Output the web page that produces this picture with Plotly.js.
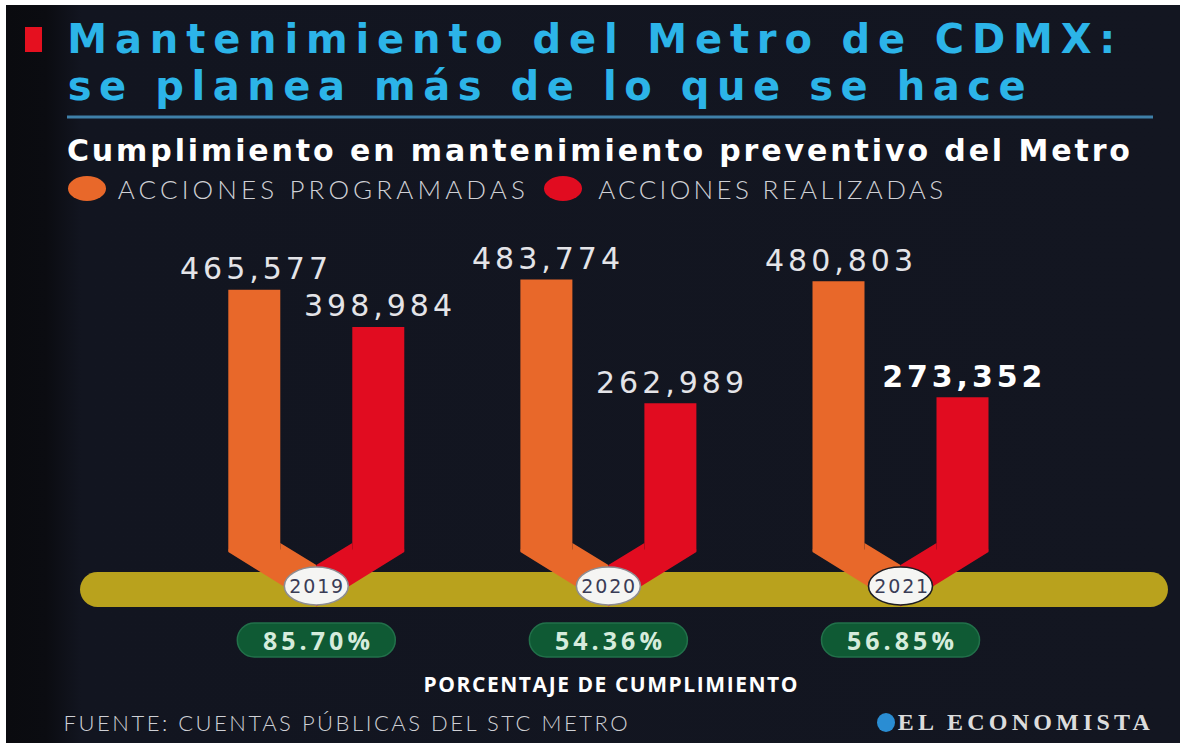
<!DOCTYPE html>
<html><head><meta charset="utf-8">
<script src="https://cdn.plot.ly/plotly-3.0.1.min.js"></script>
<style>
html,body{margin:0;padding:0;background:#ffffff;width:1183px;height:746px;overflow:hidden}
#panel{position:absolute;left:6px;top:5px;width:1174px;height:738px;
  background:linear-gradient(to right,#0a0b0f 0px,#0b0c11 40px,#121520 75px,#131621 100%)}
#chart{position:absolute;left:0;top:0;width:1183px;height:746px}
</style></head><body>
<div id="panel"></div><div id="chart"></div>
<script>
// ---------------- data ----------------
const years = ['2019', '2020', '2021'];
const programadas = [465577, 483774, 480803];
const realizadas = [398984, 262989, 273352];
const legendLabels = ['ACCIONES PROGRAMADAS', 'ACCIONES REALIZADAS'];
const titleLines = ['Mantenimiento del Metro de CDMX:', 'se planea más de lo que se hace'];
const subtitle = 'Cumplimiento en mantenimiento preventivo del Metro';
const pctLabel = 'PORCENTAJE DE CUMPLIMIENTO';
const source = 'FUENTE: CUENTAS PÚBLICAS DEL STC METRO';
const brand = 'EL ECONOMISTA';
const emphasized = [false, false, true];   // bold label on "realizadas"

// ---------------- style ----------------
const ORANGE = '#e8682a', RED = '#e10c20', GOLD = '#b9a21d', CYAN = '#2cb4e8';
const PILL = '#0f5a34', PILL_LINE = '#22704a';
const W = 1183, H = 746, L = 68, R = 5, T = 230, B = 81;
const PW = W - L - R, PH = H - T - B;
const XR = [-0.85, 2.95];
const UNIT = PW / (XR[1] - XR[0]);
const VPP = 1785;            // value per pixel
const BASE = 550.5;          // pixel row of value 0
const YR = [(BASE - (H - B)) * VPP, (BASE - T) * VPP];
const BAR_W = 52, BAR_OFF = 62;
const px = x => (x - L) / PW;
const py = y => (H - B - y) / PH;
const catPx = i => L + (i - XR[0]) * UNIT;
const fmt = v => v.toLocaleString('en-US');

function pill(x0, x1, y0, y1) {
  const r = (y1 - y0) / 2, k = 0.5523 * r, yc = (y0 + y1) / 2;
  return `M${x0 + r},${y1} L${x1 - r},${y1} C${x1 - r + k},${y1} ${x1},${yc + k} ${x1},${yc} ` +
         `C${x1},${yc - k} ${x1 - r + k},${y0} ${x1 - r},${y0} L${x0 + r},${y0} ` +
         `C${x0 + r - k},${y0} ${x0},${yc - k} ${x0},${yc} C${x0},${yc + k} ${x0 + r - k},${y1} ${x0 + r},${y1} Z`;
}

const data = [
  {type: 'bar', x: years, y: programadas, name: legendLabels[0],
   width: BAR_W / UNIT, offset: -(BAR_OFF + BAR_W / 2) / UNIT,
   marker: {color: ORANGE, line: {width: 0}}, hoverinfo: 'skip'},
  {type: 'bar', x: years, y: realizadas, name: legendLabels[1],
   width: BAR_W / UNIT, offset: (BAR_OFF - BAR_W / 2) / UNIT,
   marker: {color: RED, line: {width: 0}}, hoverinfo: 'skip'}
];

const shapes = [];
const annotations = [];
const fits = [];
function ann(a, fit) {
  annotations.push(Object.assign({showarrow: false, xanchor: 'center', yanchor: 'middle'}, a));
  fits.push(fit || null);
}

// gold band
const bandAnchor = catPx(1);
shapes.push({type: 'path', xref: 'x', yref: 'y', xsizemode: 'pixel', ysizemode: 'pixel',
  xanchor: 1, yanchor: 0, path: pill(80 - bandAnchor, 1168 - bandAnchor, BASE - 607, BASE - 572),
  fillcolor: GOLD, line: {width: 0}, layer: 'below'});

years.forEach((yr, i) => {
  const o = BAR_OFF + BAR_W / 2, inr = BAR_OFF - BAR_W / 2;
  shapes.push({type: 'path', xref: 'x', yref: 'y', xsizemode: 'pixel', ysizemode: 'pixel',
    xanchor: i, yanchor: 0,
    path: `M${-o},1 L${-inr},1 L${-inr},7.5 L0,-14.5 L0,-56 L${-o},-1.5 Z`,
    fillcolor: ORANGE, line: {width: 0}});
  shapes.push({type: 'path', xref: 'x', yref: 'y', xsizemode: 'pixel', ysizemode: 'pixel',
    xanchor: i, yanchor: 0,
    path: `M${o},1 L${inr},1 L${inr},7.5 L0,-14.5 L0,-56 L${o},-1.5 Z`,
    fillcolor: RED, line: {width: 0}});
  shapes.push({type: 'circle', xref: 'x', yref: 'y', xsizemode: 'pixel', ysizemode: 'pixel',
    xanchor: i, yanchor: 0, x0: -32, x1: 32, y0: BASE - 605, y1: BASE - 567,
    fillcolor: '#f5f5f3', line: {color: i === 2 ? '#1d1d22' : '#8d8d92', width: 1.6}});
  shapes.push({type: 'path', xref: 'x', yref: 'y', xsizemode: 'pixel', ysizemode: 'pixel',
    xanchor: i, yanchor: 0, path: pill(-79, 79, BASE - 657, BASE - 623),
    fillcolor: PILL, line: {color: PILL_LINE, width: 1.5}});

  ann({x: i, y: 0, xref: 'x', yref: 'y', yshift: -(586 - BASE), text: yr,
       font: {family: 'DejaVu Sans', size: 19, color: '#3a3c56'}}, 54);
  const pct = (realizadas[i] / programadas[i] * 100).toFixed(2) + '%';
  ann({x: i, y: 0, xref: 'x', yref: 'y', yshift: -(640 - BASE), text: pct,
       font: {family: 'Open Sans', size: 25, weight: 700, color: '#d6ecdc'}}, 107);
  ann({x: i - BAR_OFF / UNIT, y: programadas[i], xref: 'x', yref: 'y', yshift: 21,
       text: fmt(programadas[i]),
       font: {family: 'DejaVu Sans', size: 30, color: '#e4e4e8'}}, 148);
  ann({x: i + BAR_OFF / UNIT, y: realizadas[i], xref: 'x', yref: 'y', yshift: 21,
       text: emphasized[i] ? '<b>' + fmt(realizadas[i]) + '</b>' : fmt(realizadas[i]),
       font: {family: 'DejaVu Sans', size: 30, color: emphasized[i] ? '#ffffff' : '#e4e4e8'}},
       emphasized[i] ? 160 : 148);
});

// header / footer (paper)
shapes.push({type: 'rect', xref: 'paper', yref: 'paper', x0: px(25), x1: px(42), y0: py(52), y1: py(27),
  fillcolor: '#e5101f', line: {width: 0}});
shapes.push({type: 'line', xref: 'paper', yref: 'paper', x0: px(67), x1: px(1153), y0: py(117), y1: py(117),
  line: {color: '#3f80a9', width: 3}});
shapes.push({type: 'circle', xref: 'paper', yref: 'paper', x0: px(68), x1: px(106), y0: py(201), y1: py(176),
  fillcolor: ORANGE, line: {width: 0}});
shapes.push({type: 'circle', xref: 'paper', yref: 'paper', x0: px(544), x1: px(582), y0: py(201), y1: py(176),
  fillcolor: RED, line: {width: 0}});
shapes.push({type: 'circle', xref: 'paper', yref: 'paper', x0: px(877), x1: px(895), y0: py(732), y1: py(713),
  fillcolor: '#2a8dd3', line: {width: 0}});

ann({xref: 'paper', yref: 'paper', x: px(591), y: py(38.5), text: titleLines[0],
     font: {family: 'DejaVu Sans', size: 40, weight: 700, color: CYAN}}, 1048);
ann({xref: 'paper', yref: 'paper', x: px(546), y: py(85.5), text: titleLines[1],
     font: {family: 'DejaVu Sans', size: 40, weight: 700, color: CYAN}}, 958);
ann({xref: 'paper', yref: 'paper', x: px(598.5), y: py(151), text: subtitle,
     font: {family: 'DejaVu Sans', size: 30, weight: 700, color: '#ffffff'}}, 1063);
ann({xref: 'paper', yref: 'paper', x: px(321.5), y: py(189), text: legendLabels[0],
     font: {family: 'Lato', size: 26, weight: 300, color: '#cfd0d5'}}, 407);
ann({xref: 'paper', yref: 'paper', x: px(770.5), y: py(189), text: legendLabels[1],
     font: {family: 'Lato', size: 26, weight: 300, color: '#cfd0d5'}}, 345);
ann({xref: 'paper', yref: 'paper', x: px(610), y: py(684), text: pctLabel,
     font: {family: 'Open Sans', size: 21, weight: 700, color: '#ffffff'}}, 374);
ann({xref: 'paper', yref: 'paper', x: px(345), y: py(722), text: source,
     font: {family: 'Lato', size: 22, weight: 300, color: '#cfd0d5'}}, 564);
ann({xref: 'paper', yref: 'paper', x: px(1024), y: py(722), text: brand,
     font: {family: 'Liberation Serif', size: 24, weight: 700, color: '#dcdcdc'}}, 252);

const layout = {
  width: W, height: H, margin: {l: L, r: R, t: T, b: B, pad: 0},
  paper_bgcolor: 'rgba(0,0,0,0)', plot_bgcolor: 'rgba(0,0,0,0)',
  showlegend: false, barmode: 'overlay',
  xaxis: {type: 'category', range: XR, showgrid: false, zeroline: false, showticklabels: false,
          showline: false, ticks: '', fixedrange: true},
  yaxis: {range: YR, showgrid: false, zeroline: false, showticklabels: false,
          showline: false, ticks: '', fixedrange: true},
  shapes: shapes, annotations: annotations
};

Plotly.newPlot('chart', data, layout, {staticPlot: true, displayModeBar: false}).then(gd => {
  gd.querySelectorAll('g.annotation').forEach(g => {
    const idx = +g.getAttribute('data-index');
    const target = fits[idx];
    if (!target) return;
    const t = g.querySelector('text.annotation-text');
    if (!t) return;
    const nat = t.getComputedTextLength();
    const n = t.textContent.length;
    if (n < 2) return;
    const ls = (target - nat) / (n - 1);
    t.style.letterSpacing = ls + 'px';
    const prev = t.getAttribute('transform') || '';
    t.setAttribute('transform', prev + ` translate(${ls / 2},0)`);
  });
});
</script>
</body></html>
